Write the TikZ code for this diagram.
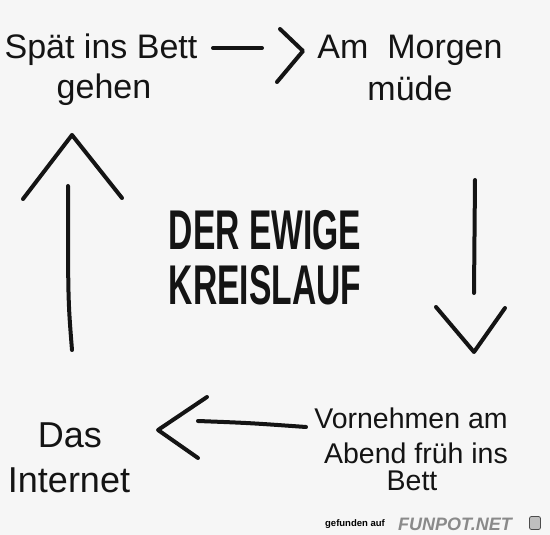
\documentclass[tikz,border=0pt]{standalone}
\usepackage{fontspec}
\setmainfont{Liberation Sans}
\usetikzlibrary{positioning}
\definecolor{bg}{HTML}{F6F6F6}
\definecolor{ink}{HTML}{141414}
\definecolor{wmgray}{HTML}{8A8A8A}
\tikzset{
  lbl/.style={anchor=base, inner sep=0pt, text=ink, font=\fontsize{34}{40}\selectfont},
  lblsmall/.style={anchor=base, inner sep=0pt, text=ink, font=\fontsize{28.5}{33}\selectfont},
  lblbig/.style={anchor=base, inner sep=0pt, text=ink, font=\fontsize{36}{42}\selectfont},
  title/.style={anchor=base, inner sep=0pt, text=ink, font=\fontsize{56}{60}\bfseries\selectfont, xscale=0.6},
  stroke/.style={draw=ink, line width=4pt, line cap=round, line join=round},
}
\begin{document}
\begin{tikzpicture}[x=1pt,y=-1pt]
\fill[bg] (0,0) rectangle (550,535);
\useasboundingbox (0,0) rectangle (550,535);

% texts
\node[lbl] (s1) at (101,59) {Spät ins Bett};
\node[lbl] (s2) at (104,99) {gehen};
\node[lbl] (m1) at (410,59) {Am\ \ Morgen};
\node[lbl] (m2) at (410,101) {müde};
\node[lblsmall] (v1) at (411,428) {Vornehmen am};
\node[lblsmall] (v2) at (416,463) {Abend früh ins};
\node[lblsmall] (v3) at (412,490) {Bett};
\node[lblbig] (d1) at (70,447) {Das};
\node[lblbig] (d2) at (69,492) {Internet};
\node[title] (t1) at (265,250) {DER EWIGE};
\node[title] (t2) at (265,305) {KREISLAUF};

% arrow top (left to right)
\coordinate (a1s) at (213,48);
\coordinate (a1e) at (262,48);
\coordinate (a1p) at (280,29);
\coordinate (a1q) at (303,51);
\coordinate (a1r) at (277,82);
\draw[stroke] (a1s) -- (a1e);
\draw[stroke] (a1p) -- (a1q) -- (a1r);

% arrow right (downwards)
\coordinate (a2s) at (475,180);
\coordinate (a2e) at (474,293);
\coordinate (a2p) at (436,307);
\coordinate (a2q) at (474,352);
\coordinate (a2r) at (505,308);
\draw[stroke] (a2s) -- (a2e);
\draw[stroke] (a2p) -- (a2q) -- (a2r);

% arrow bottom (right to left)
\coordinate (a3s) at (306,427);
\coordinate (a3e) at (198,421);
\coordinate (a3p) at (207,397);
\coordinate (a3q) at (158,430);
\coordinate (a3r) at (198,458);
\draw[stroke] (a3s) .. controls (250,423) .. (a3e);
\draw[stroke] (a3p) -- (a3q) -- (a3r);

% arrow left (upwards)
\coordinate (a4s) at (72,350);
\coordinate (a4e) at (68,186);
\coordinate (a4p) at (23,199);
\coordinate (a4q) at (72,135);
\coordinate (a4r) at (122,198);
\draw[stroke] (a4s) .. controls (68,300) .. (a4e);
\draw[stroke] (a4p) -- (a4q) -- (a4r);

% watermark
\node[anchor=base, inner sep=0pt, font=\fontsize{9.5}{11}\bfseries\selectfont, text=black] (wm1) at (355,526) {gefunden auf};
\node[anchor=base, inner sep=0pt, font=\fontsize{18}{20}\bfseries\itshape\selectfont, text=wmgray] (wm2) at (455,530) {FUNPOT.NET};
\node[draw=black!70, fill=black!25, rounded corners=2pt, minimum width=11pt, minimum height=13pt, inner sep=0pt, line width=0.8pt] (wm3) at (535,523) {};
\end{tikzpicture}
\end{document}
